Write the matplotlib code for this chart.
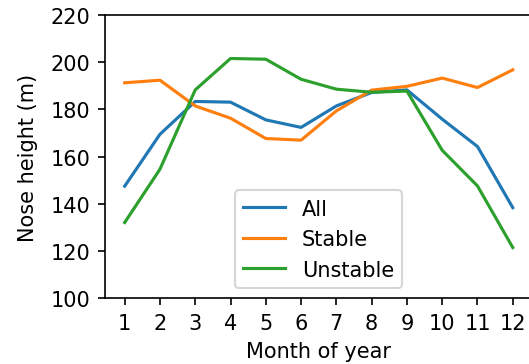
import numpy as np
import matplotlib.pyplot as plt

months = np.arange(1, 13)

# Mean nose height per month (m)
nose_all = [147.5, 169.5, 183.4, 183.1, 175.6, 172.4, 181.5, 187.2, 188.3, 175.9, 164.3, 138.4]
nose_stable = [191.3, 192.4, 181.5, 176.3, 167.7, 167.0, 179.4, 188.2, 189.8, 193.3, 189.3, 196.8]
nose_unstable = [132.1, 154.7, 188.3, 201.6, 201.3, 192.8, 188.6, 187.3, 187.8, 162.7, 147.6, 121.5]

fig = plt.figure(figsize=(529 / 150, 365 / 150), dpi=150)
ax = fig.add_axes([0.199, 0.18, 1.006 - 0.199, 0.956 - 0.18])

ax.plot(months, nose_all, label="All")
ax.plot(months, nose_stable, label="Stable")
ax.plot(months, nose_unstable, label="Unstable")

ax.set_ylim(100, 220)
ax.set_xticks(months)
ax.set_xlabel("Month of year")
ax.set_ylabel("Nose height (m)", labelpad=6)
ax.legend(loc="lower center")

fig.savefig("out.png", dpi=150)
